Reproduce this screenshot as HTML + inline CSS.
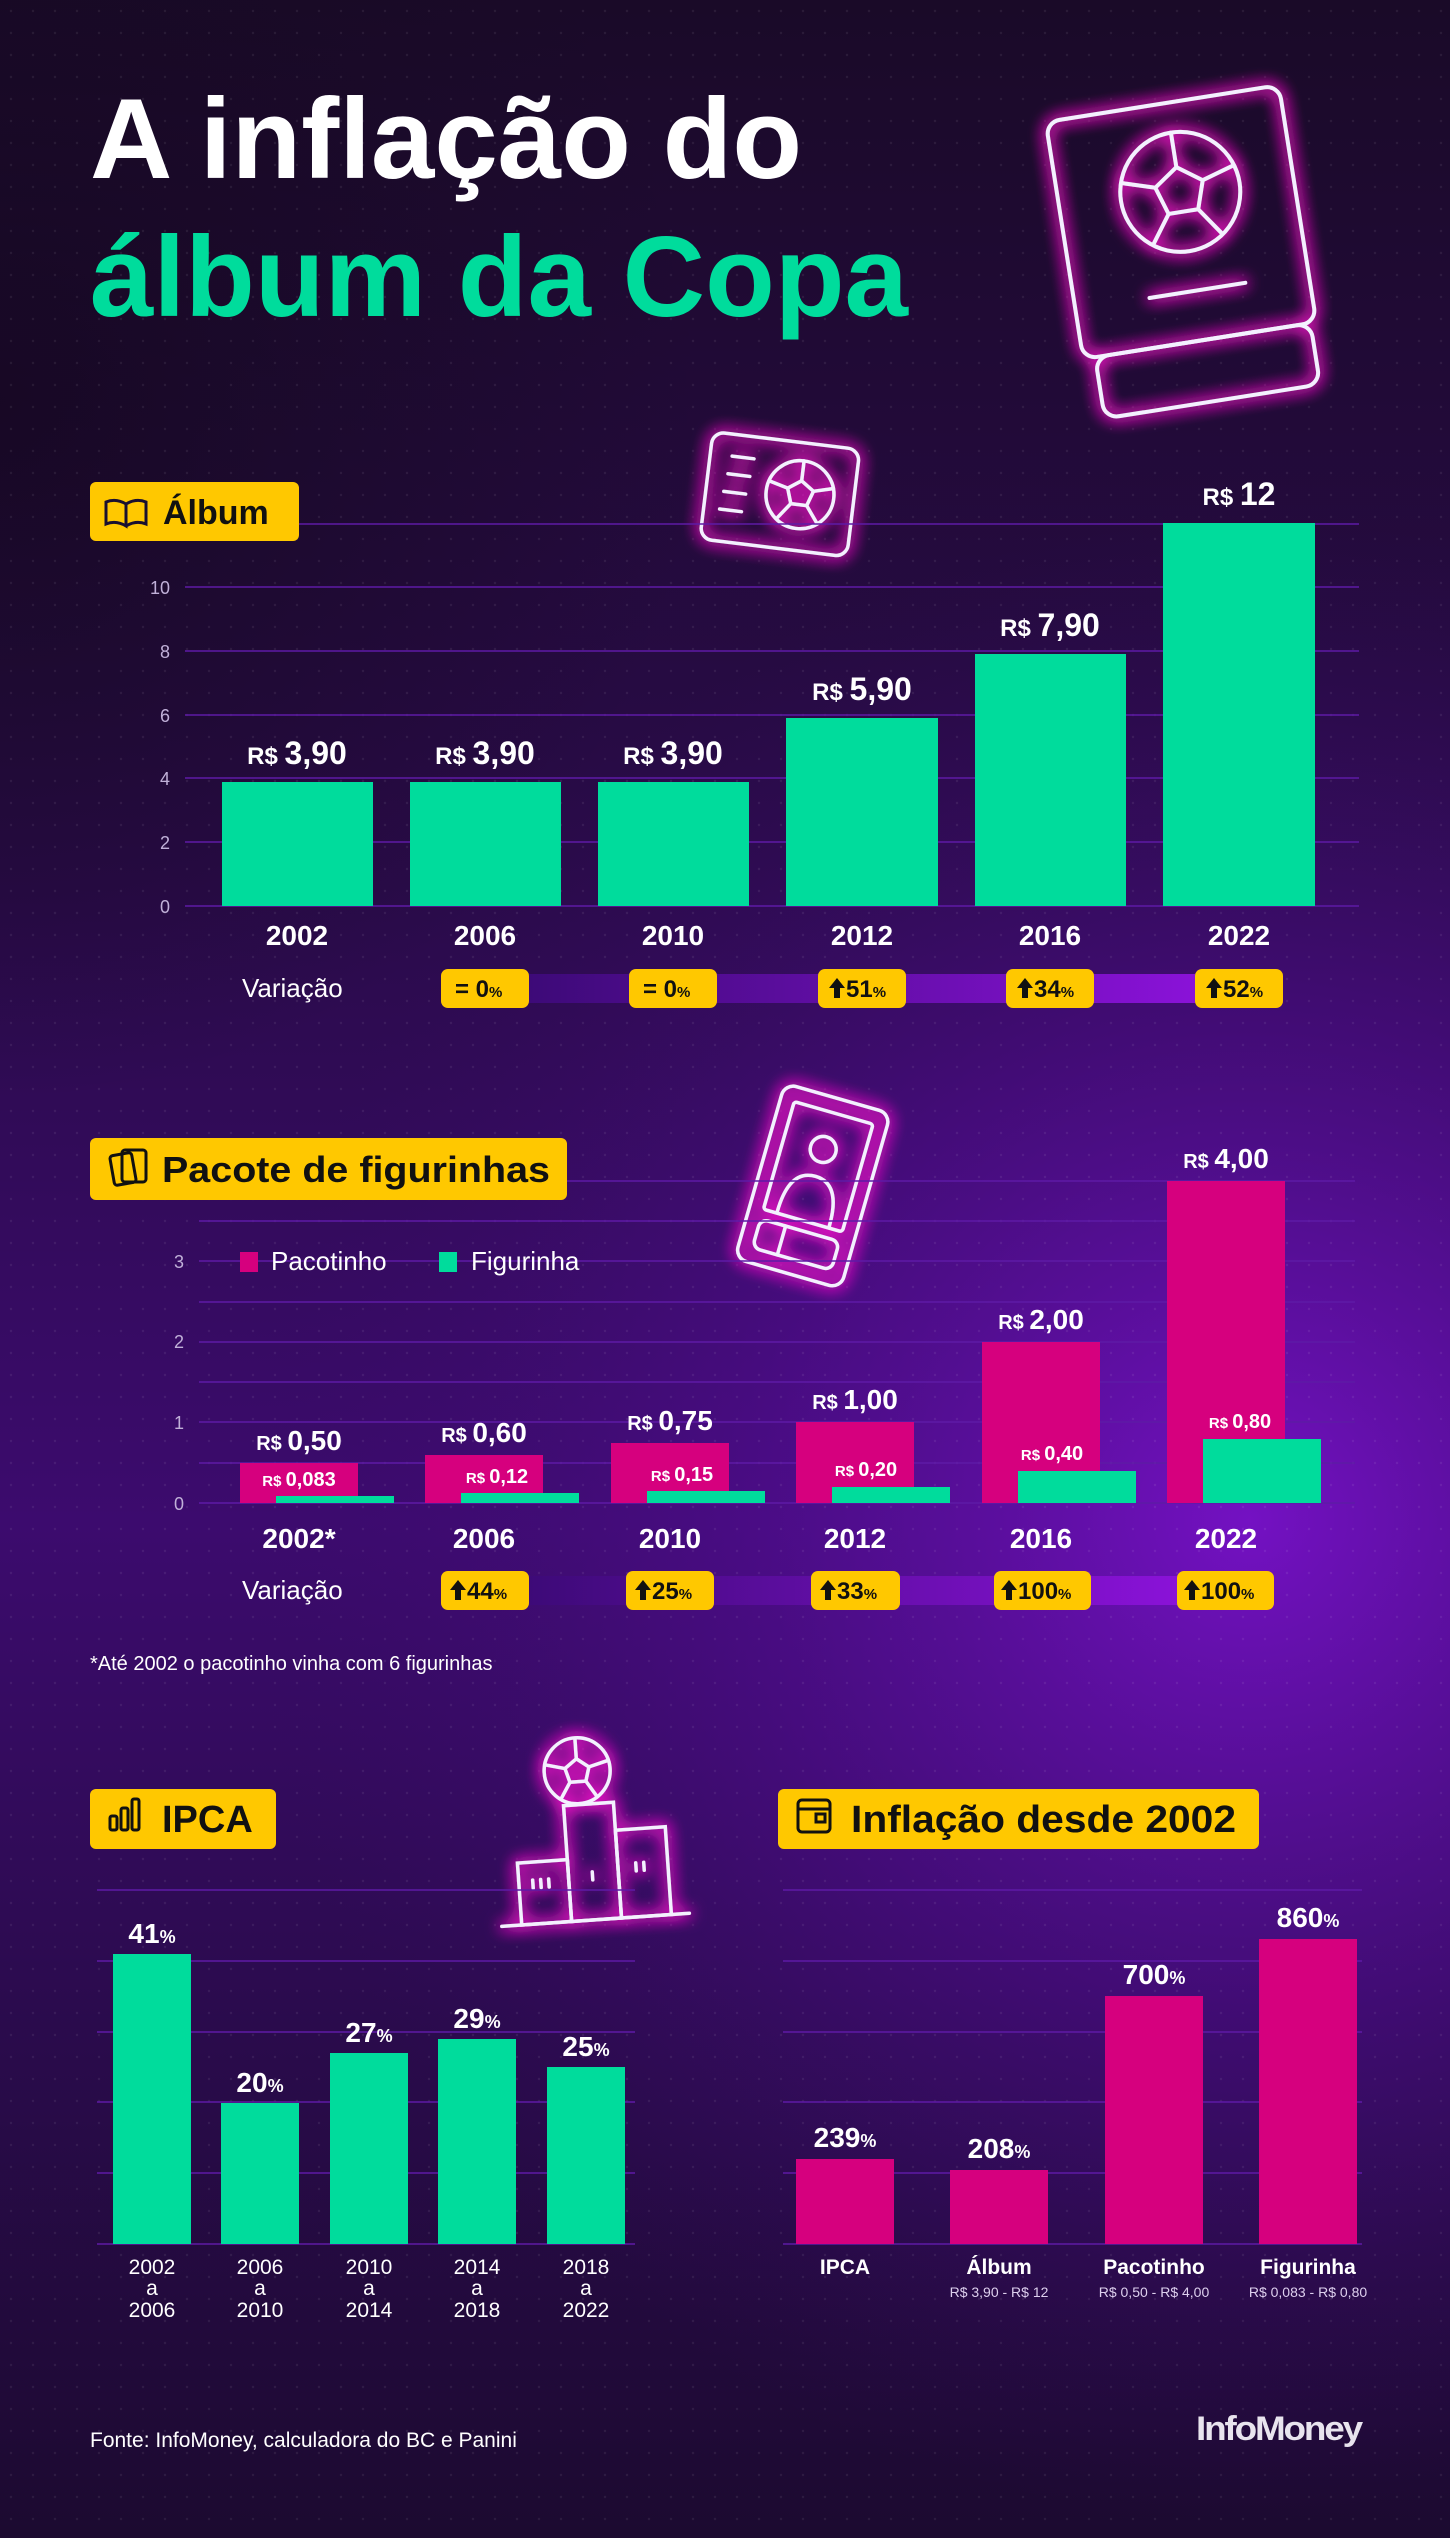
<!DOCTYPE html>
<html><head><meta charset="utf-8">
<style>
html,body{margin:0;padding:0;background:#1c0a2e;}
svg{display:block;}
text{font-family:"Liberation Sans",sans-serif;}
</style></head>
<body>
<svg width="1450" height="2538" viewBox="0 0 1450 2538" xmlns="http://www.w3.org/2000/svg">
<defs>
<linearGradient id="bg" x1="0" y1="0" x2="0" y2="1">
<stop offset="0" stop-color="#1a0a28"/>
<stop offset="0.35" stop-color="#2a0b4a"/>
<stop offset="0.6" stop-color="#3c0b6e"/>
<stop offset="0.8" stop-color="#2a0b4c"/>
<stop offset="1" stop-color="#1c0a30"/>
</linearGradient>
<radialGradient id="glow" cx="1250" cy="1520" r="1000" gradientUnits="userSpaceOnUse">
<stop offset="0" stop-color="#7a12cc" stop-opacity="0.9"/>
<stop offset="0.5" stop-color="#5a0ea0" stop-opacity="0.45"/>
<stop offset="1" stop-color="#3a0b6a" stop-opacity="0"/>
</radialGradient>
<radialGradient id="glow2" cx="0" cy="400" r="700" gradientUnits="userSpaceOnUse">
<stop offset="0" stop-color="#150820" stop-opacity="0.8"/>
<stop offset="1" stop-color="#150820" stop-opacity="0"/>
</radialGradient>
<pattern id="dots" width="22" height="22" patternUnits="userSpaceOnUse">
<circle cx="11" cy="11" r="1.2" fill="#ffffff" fill-opacity="0.07"/>
</pattern>
<linearGradient id="band" x1="0" y1="0" x2="1" y2="0">
<stop offset="0" stop-color="#3d0a78"/>
<stop offset="1" stop-color="#8a12d8"/>
</linearGradient>
<filter id="neon" x="-30%" y="-30%" width="160%" height="160%">
<feGaussianBlur in="SourceGraphic" stdDeviation="8" result="b"/>
<feFlood flood-color="#ff1fd0" flood-opacity="1"/>
<feComposite in2="b" operator="in" result="g"/>
<feMerge><feMergeNode in="g"/><feMergeNode in="g"/><feMergeNode in="g"/><feMergeNode in="SourceGraphic"/></feMerge>
</filter>
</defs>

<rect width="1450" height="2538" fill="url(#bg)"/>
<rect width="1450" height="2538" fill="url(#glow)"/>
<rect width="1450" height="2538" fill="url(#glow2)"/>
<rect width="1450" height="2538" fill="url(#dots)"/>

<!-- Title -->
<text x="90" y="178" font-size="114" font-weight="bold" fill="#ffffff" textLength="712" lengthAdjust="spacingAndGlyphs">A inflação do</text>
<text x="90" y="316" font-size="114" font-weight="bold" fill="#00dc9c" textLength="818" lengthAdjust="spacingAndGlyphs">álbum da Copa</text>

<!-- Big neon album -->
<g filter="url(#neon)" fill="none" stroke="#f4f0ff" stroke-width="4" stroke-linecap="round">
<g transform="translate(16 0) rotate(-9 1180 240)">
<rect x="1050" y="100" width="236" height="240" rx="14"/>
<rect x="1062" y="340" width="218" height="62" rx="14"/>
<circle cx="1172" cy="190" r="60"/>
<polygon points="1172,165 1196,182 1187,210 1157,210 1148,182"/>
<line x1="1172" y1="165" x2="1172" y2="130"/>
<line x1="1196" y1="182" x2="1229" y2="172"/>
<line x1="1187" y1="210" x2="1207" y2="238"/>
<line x1="1157" y1="210" x2="1137" y2="238"/>
<line x1="1148" y1="182" x2="1115" y2="172"/>
<line x1="1125" y1="290" x2="1222" y2="290"/>
</g>
</g>

<!-- Small album icon -->
<g filter="url(#neon)" fill="none" stroke="#f4f0ff" stroke-width="3.5" stroke-linecap="round">
<g transform="rotate(7 778 493)">
<rect x="706" y="440" width="148" height="108" rx="12"/>
<circle cx="800" cy="492" r="34"/>
<polygon points="800,478 813,487 808,502 792,502 787,487"/>
<line x1="800" y1="478" x2="800" y2="458"/>
<line x1="813" y1="487" x2="832" y2="482"/>
<line x1="808" y1="502" x2="820" y2="518"/>
<line x1="792" y1="502" x2="780" y2="518"/>
<line x1="787" y1="487" x2="768" y2="482"/>
<line x1="728" y1="462" x2="750" y2="462"/>
<line x1="726" y1="480" x2="748" y2="480"/>
<line x1="724" y1="498" x2="746" y2="498"/>
<line x1="722" y1="516" x2="744" y2="516"/>
</g>
</g>

<!-- Section: Álbum -->
<g stroke="#5e1aa6" stroke-width="1.5">
<line x1="185" y1="524" x2="1359" y2="524"/>
<line x1="185" y1="587" x2="1359" y2="587"/>
<line x1="185" y1="651" x2="1359" y2="651"/>
<line x1="185" y1="715" x2="1359" y2="715"/>
<line x1="185" y1="778" x2="1359" y2="778"/>
<line x1="185" y1="842" x2="1359" y2="842"/>
<line x1="185" y1="906" x2="1359" y2="906"/>
</g>
<rect x="90" y="482" width="209" height="59" rx="6" fill="#ffc800"/>
<g fill="none" stroke="#1a1030" stroke-width="3"><path d="M106 502 q10 -4 20 2 v22 q-10 -6 -20 -2 z M126 504 q10 -6 20 -2 v22 q-10 -4 -20 2"/></g>
<text x="163" y="524" font-size="34" font-weight="bold" fill="#111">Álbum</text>
<g font-size="18" fill="#c0b0d8" text-anchor="end">
<text x="170" y="594">10</text><text x="170" y="658">8</text><text x="170" y="722">6</text>
<text x="170" y="785">4</text><text x="170" y="849">2</text><text x="170" y="913">0</text>
</g>
<g fill="#00dc9c">
<rect x="222" y="782" width="151" height="124"/>
<rect x="410" y="782" width="151" height="124"/>
<rect x="598" y="782" width="151" height="124"/>
<rect x="786" y="718" width="152" height="188"/>
<rect x="975" y="654" width="151" height="252"/>
<rect x="1163" y="523" width="152" height="383"/>
</g>
<g font-size="32" font-weight="bold" fill="#fff" text-anchor="middle">
<text x="297" y="764"><tspan font-size="24">R$ </tspan>3,90</text>
<text x="485" y="764"><tspan font-size="24">R$ </tspan>3,90</text>
<text x="673" y="764"><tspan font-size="24">R$ </tspan>3,90</text>
<text x="862" y="700"><tspan font-size="24">R$ </tspan>5,90</text>
<text x="1050" y="636"><tspan font-size="24">R$ </tspan>7,90</text>
<text x="1239" y="505"><tspan font-size="24">R$ </tspan>12</text>
</g>
<g font-size="28" font-weight="bold" fill="#fff" text-anchor="middle">
<text x="297" y="945">2002</text><text x="485" y="945">2006</text><text x="673" y="945">2010</text>
<text x="862" y="945">2012</text><text x="1050" y="945">2016</text><text x="1239" y="945">2022</text>
</g>
<text x="242" y="997" font-size="26" fill="#fff">Variação</text>
<rect x="529" y="974" width="666" height="29" fill="url(#band)"/>
<g fill="#ffc800">
<rect x="441" y="969" width="88" height="39" rx="7"/>
<rect x="629" y="969" width="88" height="39" rx="7"/>
<rect x="818" y="969" width="88" height="39" rx="7"/>
<rect x="1006" y="969" width="88" height="39" rx="7"/>
<rect x="1195" y="969" width="88" height="39" rx="7"/>
</g>
<g font-size="24" font-weight="bold" fill="#111">
<text x="455" y="997">= 0<tspan font-size="15">%</tspan></text>
<text x="643" y="997">= 0<tspan font-size="15">%</tspan></text>
<text x="846" y="997">51<tspan font-size="15">%</tspan></text>
<text x="1034" y="997">34<tspan font-size="15">%</tspan></text>
<text x="1223" y="997">52<tspan font-size="15">%</tspan></text>
</g>
<g fill="#111">
<path d="M837 978 l-8 10 h5 v10 h6 v-10 h5 z"/>
<path d="M1025 978 l-8 10 h5 v10 h6 v-10 h5 z"/>
<path d="M1214 978 l-8 10 h5 v10 h6 v-10 h5 z"/>
</g>

<!-- Sticker icon -->
<g filter="url(#neon)" fill="none" stroke="#f4f0ff" stroke-width="3.5" stroke-linecap="round">
<g transform="rotate(16 813 1185)">
<rect x="758" y="1095" width="110" height="182" rx="12"/>
<rect x="772" y="1110" width="82" height="112" rx="3"/>
<rect x="772" y="1232" width="82" height="30" rx="8"/>
<line x1="798" y1="1232" x2="798" y2="1262"/>
<circle cx="813" cy="1148" r="13"/>
<path d="M786 1220 q0 -44 27 -44 q27 0 27 44"/>
</g>
</g>

<!-- Section: Pacote -->
<g stroke="#5e1aa6" stroke-width="1.5">
<line x1="199" y1="1181" x2="1355" y2="1181"/>
<line x1="199" y1="1221" x2="1355" y2="1221"/>
<line x1="199" y1="1261" x2="1355" y2="1261"/>
<line x1="199" y1="1302" x2="1355" y2="1302"/>
<line x1="199" y1="1342" x2="1355" y2="1342"/>
<line x1="199" y1="1382" x2="1355" y2="1382"/>
<line x1="199" y1="1422" x2="1355" y2="1422"/>
<line x1="199" y1="1463" x2="1355" y2="1463"/>
<line x1="199" y1="1503" x2="1355" y2="1503"/>
</g>
<rect x="90" y="1138" width="477" height="62" rx="6" fill="#ffc800"/>
<g fill="none" stroke="#111" stroke-width="3"><rect x="112" y="1154" width="22" height="30" rx="3" transform="rotate(-10 123 1169)"/><rect x="122" y="1150" width="24" height="32" rx="3"/></g>
<text x="162" y="1182" font-size="36" font-weight="bold" fill="#111" textLength="388" lengthAdjust="spacingAndGlyphs">Pacote de figurinhas</text>
<g font-size="18" fill="#c0b0d8" text-anchor="end">
<text x="184" y="1268">3</text><text x="184" y="1348">2</text><text x="184" y="1429">1</text><text x="184" y="1510">0</text>
</g>
<rect x="240" y="1252" width="18" height="20" fill="#d6007e"/>
<text x="271" y="1270" font-size="26" fill="#fff">Pacotinho</text>
<rect x="439" y="1252" width="18" height="20" fill="#00dc9c"/>
<text x="471" y="1270" font-size="26" fill="#fff">Figurinha</text>

<g fill="#d6007e">
<rect x="240" y="1463" width="118" height="40"/>
<rect x="425" y="1455" width="118" height="48"/>
<rect x="611" y="1443" width="118" height="60"/>
<rect x="796" y="1422" width="118" height="81"/>
<rect x="982" y="1342" width="118" height="161"/>
<rect x="1167" y="1181" width="118" height="322"/>
</g>
<g fill="#00dc9c">
<rect x="276" y="1496" width="118" height="7"/>
<rect x="461" y="1493" width="118" height="10"/>
<rect x="647" y="1491" width="118" height="12"/>
<rect x="832" y="1487" width="118" height="16"/>
<rect x="1018" y="1471" width="118" height="32"/>
<rect x="1203" y="1439" width="118" height="64"/>
</g>
<g font-size="28" font-weight="bold" fill="#fff" text-anchor="middle">
<text x="299" y="1450"><tspan font-size="20">R$ </tspan>0,50</text>
<text x="484" y="1442"><tspan font-size="20">R$ </tspan>0,60</text>
<text x="670" y="1430"><tspan font-size="20">R$ </tspan>0,75</text>
<text x="855" y="1409"><tspan font-size="20">R$ </tspan>1,00</text>
<text x="1041" y="1329"><tspan font-size="20">R$ </tspan>2,00</text>
<text x="1226" y="1168"><tspan font-size="20">R$ </tspan>4,00</text>
</g>
<g font-size="20" font-weight="bold" fill="#fff" text-anchor="middle">
<text x="299" y="1486"><tspan font-size="15">R$ </tspan>0,083</text>
<text x="497" y="1483"><tspan font-size="15">R$ </tspan>0,12</text>
<text x="682" y="1481"><tspan font-size="15">R$ </tspan>0,15</text>
<text x="866" y="1476"><tspan font-size="15">R$ </tspan>0,20</text>
<text x="1052" y="1460"><tspan font-size="15">R$ </tspan>0,40</text>
<text x="1240" y="1428"><tspan font-size="15">R$ </tspan>0,80</text>
</g>
<g font-size="28" font-weight="bold" fill="#fff" text-anchor="middle">
<text x="299" y="1548">2002*</text><text x="484" y="1548">2006</text><text x="670" y="1548">2010</text>
<text x="855" y="1548">2012</text><text x="1041" y="1548">2016</text><text x="1226" y="1548">2022</text>
</g>
<text x="242" y="1599" font-size="26" fill="#fff">Variação</text>
<rect x="529" y="1576" width="648" height="29" fill="url(#band)"/>
<g fill="#ffc800">
<rect x="441" y="1571" width="88" height="39" rx="7"/>
<rect x="626" y="1571" width="88" height="39" rx="7"/>
<rect x="811" y="1571" width="89" height="39" rx="7"/>
<rect x="994" y="1571" width="97" height="39" rx="7"/>
<rect x="1177" y="1571" width="97" height="39" rx="7"/>
</g>
<g fill="#111">
<path d="M458 1580 l-8 10 h5 v10 h6 v-10 h5 z"/>
<path d="M643 1580 l-8 10 h5 v10 h6 v-10 h5 z"/>
<path d="M828 1580 l-8 10 h5 v10 h6 v-10 h5 z"/>
<path d="M1009 1580 l-8 10 h5 v10 h6 v-10 h5 z"/>
<path d="M1192 1580 l-8 10 h5 v10 h6 v-10 h5 z"/>
</g>
<g font-size="24" font-weight="bold" fill="#111">
<text x="467" y="1599">44<tspan font-size="15">%</tspan></text>
<text x="652" y="1599">25<tspan font-size="15">%</tspan></text>
<text x="837" y="1599">33<tspan font-size="15">%</tspan></text>
<text x="1018" y="1599">100<tspan font-size="15">%</tspan></text>
<text x="1201" y="1599">100<tspan font-size="15">%</tspan></text>
</g>
<text x="90" y="1670" font-size="20" fill="#fff">*Até 2002 o pacotinho vinha com 6 figurinhas</text>

<!-- Podium icon -->
<g filter="url(#neon)" fill="none" stroke="#f4f0ff" stroke-width="3.5" stroke-linecap="round">
<g transform="rotate(-4 590 1840)">
<circle cx="582" cy="1770" r="33"/>
<polygon points="582,1758 594,1767 590,1781 574,1781 570,1767"/>
<line x1="582" y1="1758" x2="582" y2="1738"/>
<line x1="594" y1="1767" x2="613" y2="1762"/>
<line x1="570" y1="1767" x2="551" y2="1762"/>
<line x1="590" y1="1781" x2="600" y2="1797"/>
<line x1="574" y1="1781" x2="564" y2="1797"/>
<rect x="516" y="1858" width="50" height="62"/>
<rect x="566" y="1804" width="50" height="116"/>
<rect x="616" y="1832" width="50" height="88"/>
<line x1="496" y1="1920" x2="684" y2="1920"/>
<line x1="530" y1="1876" x2="530" y2="1884"/><line x1="538" y1="1876" x2="538" y2="1884"/><line x1="546" y1="1876" x2="546" y2="1884"/>
<line x1="590" y1="1872" x2="590" y2="1880"/>
<line x1="634" y1="1866" x2="634" y2="1874"/><line x1="642" y1="1866" x2="642" y2="1874"/>
</g>
</g>

<!-- IPCA -->
<rect x="90" y="1789" width="186" height="60" rx="6" fill="#ffc800"/>
<g fill="none" stroke="#111" stroke-width="3"><rect x="110" y="1816" width="7" height="14" rx="2"/><rect x="121" y="1808" width="7" height="22" rx="2"/><rect x="132" y="1799" width="7" height="31" rx="2"/></g>
<text x="162" y="1832" font-size="38" font-weight="bold" fill="#111">IPCA</text>

<g stroke="#5e1aa6" stroke-width="1.5">
<line x1="97" y1="1890" x2="635" y2="1890"/>
<line x1="97" y1="1961" x2="635" y2="1961"/>
<line x1="97" y1="2032" x2="635" y2="2032"/>
<line x1="97" y1="2102" x2="635" y2="2102"/>
<line x1="97" y1="2173" x2="635" y2="2173"/>
<line x1="97" y1="2244" x2="635" y2="2244"/>
<line x1="783" y1="1890" x2="1362" y2="1890"/>
<line x1="783" y1="1961" x2="1362" y2="1961"/>
<line x1="783" y1="2032" x2="1362" y2="2032"/>
<line x1="783" y1="2102" x2="1362" y2="2102"/>
<line x1="783" y1="2173" x2="1362" y2="2173"/>
<line x1="783" y1="2244" x2="1362" y2="2244"/>
</g>
<g fill="#00dc9c">
<rect x="113" y="1954" width="78" height="290"/>
<rect x="221" y="2103" width="78" height="141"/>
<rect x="330" y="2053" width="78" height="191"/>
<rect x="438" y="2039" width="78" height="205"/>
<rect x="547" y="2067" width="78" height="177"/>
</g>
<g font-size="28" font-weight="bold" fill="#fff" text-anchor="middle">
<text x="152" y="1943">41<tspan font-size="18">%</tspan></text>
<text x="260" y="2092">20<tspan font-size="18">%</tspan></text>
<text x="369" y="2042">27<tspan font-size="18">%</tspan></text>
<text x="477" y="2028">29<tspan font-size="18">%</tspan></text>
<text x="586" y="2056">25<tspan font-size="18">%</tspan></text>
</g>
<g font-size="21" fill="#fff" text-anchor="middle">
<text x="152" y="2274">2002</text><text x="152" y="2295">a</text><text x="152" y="2317">2006</text>
<text x="260" y="2274">2006</text><text x="260" y="2295">a</text><text x="260" y="2317">2010</text>
<text x="369" y="2274">2010</text><text x="369" y="2295">a</text><text x="369" y="2317">2014</text>
<text x="477" y="2274">2014</text><text x="477" y="2295">a</text><text x="477" y="2317">2018</text>
<text x="586" y="2274">2018</text><text x="586" y="2295">a</text><text x="586" y="2317">2022</text>
</g>

<!-- Inflação desde 2002 -->
<rect x="778" y="1789" width="481" height="60" rx="6" fill="#ffc800"/>
<g fill="none" stroke="#111" stroke-width="3"><rect x="798" y="1800" width="32" height="32" rx="4"/><line x1="798" y1="1809" x2="830" y2="1809"/><rect x="816" y="1814" width="9" height="8"/></g>
<text x="851" y="1832" font-size="38" font-weight="bold" fill="#111" textLength="385" lengthAdjust="spacingAndGlyphs">Inflação desde 2002</text>
<g fill="#d6007e">
<rect x="796" y="2159" width="98" height="85"/>
<rect x="950" y="2170" width="98" height="74"/>
<rect x="1105" y="1996" width="98" height="248"/>
<rect x="1259" y="1939" width="98" height="305"/>
</g>
<g font-size="28" font-weight="bold" fill="#fff" text-anchor="middle">
<text x="845" y="2147">239<tspan font-size="18">%</tspan></text>
<text x="999" y="2158">208<tspan font-size="18">%</tspan></text>
<text x="1154" y="1984">700<tspan font-size="18">%</tspan></text>
<text x="1308" y="1927">860<tspan font-size="18">%</tspan></text>
</g>
<g font-size="21" font-weight="bold" fill="#fff" text-anchor="middle">
<text x="845" y="2274">IPCA</text>
<text x="999" y="2274">Álbum</text>
<text x="1154" y="2274">Pacotinho</text>
<text x="1308" y="2274">Figurinha</text>
</g>
<g font-size="14" fill="#ddd0ee" text-anchor="middle">
<text x="999" y="2297">R$ 3,90 - R$ 12</text>
<text x="1154" y="2297">R$ 0,50 - R$ 4,00</text>
<text x="1308" y="2297">R$ 0,083 - R$ 0,80</text>
</g>

<text x="90" y="2447" font-size="21" fill="#fff">Fonte: InfoMoney, calculadora do BC e Panini</text>
<text x="1196" y="2440" font-size="34" font-weight="bold" fill="#e8e4ee" letter-spacing="-2" textLength="165" lengthAdjust="spacingAndGlyphs">InfoMoney</text>
</svg>
</body></html>
